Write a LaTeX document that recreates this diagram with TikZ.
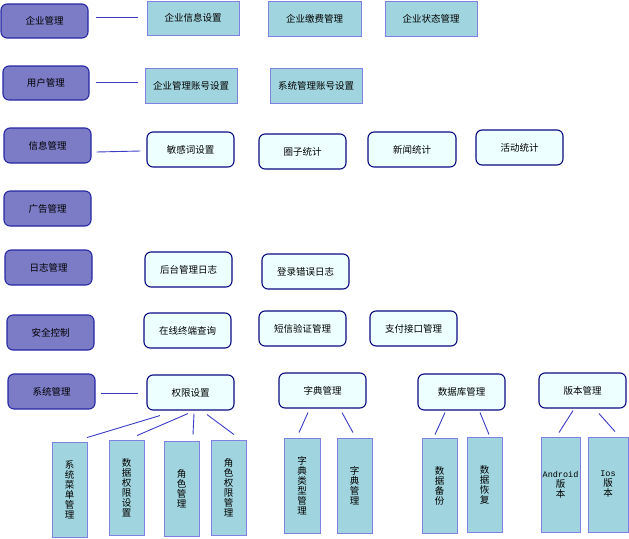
\documentclass[tikz,border=0pt]{standalone}
\usepackage{fontspec}
\setmainfont{Noto Sans CJK SC}
\setmonofont{Liberation Mono}
\begin{document}
\begin{tikzpicture}[x=1pt,y=-1pt,
  every node/.style={inner sep=0pt, font=\fontsize{9.5}{10}\selectfont},
  cat/.style={draw={rgb,255:red,40;green,40;blue,165}, line width=1.1pt,
    fill={rgb,255:red,123;green,123;blue,198}, rounded corners=6pt},
  leaf/.style={draw={rgb,255:red,128;green,128;blue,228}, line width=0.9pt,
    fill={rgb,255:red,160;green,212;blue,222}},
  sub/.style={draw={rgb,255:red,10;green,10;blue,130}, line width=1.1pt,
    fill={rgb,255:red,238;green,255;blue,255}, rounded corners=6pt},
  vleaf/.style={leaf, align=center, font=\fontsize{9.5}{10}\selectfont},
  link/.style={draw={rgb,255:red,60;green,60;blue,200}, line width=0.9pt}]
\useasboundingbox (0,0) rectangle (629,538);

% first-level modules
\node[cat, minimum width=87, minimum height=34] (c1) at (44.5,21) {企业管理};
\node[cat, minimum width=86, minimum height=34] (c2) at (46,83) {用户管理};
\node[cat, minimum width=87, minimum height=35] (c3) at (47.5,145.5) {信息管理};
\node[cat, minimum width=87, minimum height=35] (c4) at (47.5,208.5) {广告管理};
\node[cat, minimum width=87, minimum height=35] (c5) at (48.5,267.5) {日志管理};
\node[cat, minimum width=87, minimum height=35] (c6) at (50.5,332.5) {安全控制};
\node[cat, minimum width=87, minimum height=35] (c7) at (51.5,391.5) {系统管理};

% enterprise / user settings
\node[leaf, minimum width=92, minimum height=34] (a1) at (193,18) {企业信息设置};
\node[leaf, minimum width=93, minimum height=35] (a2) at (314.5,18.5) {企业缴费管理};
\node[leaf, minimum width=92, minimum height=35] (a3) at (431,18.5) {企业状态管理};
\node[leaf, minimum width=92, minimum height=35] (b1) at (191,85.5) {企业管理账号设置};
\node[leaf, minimum width=92, minimum height=35] (b2) at (316,85.5) {系统管理账号设置};

% information, log, security, system functions
\node[sub, minimum width=87, minimum height=35] (d1) at (190.5,149.5) {敏感词设置};
\node[sub, minimum width=87, minimum height=35] (d2) at (302.5,151.5) {圈子统计};
\node[sub, minimum width=88, minimum height=35] (d3) at (412,149.5) {新闻统计};
\node[sub, minimum width=87, minimum height=35] (d4) at (519.5,147.5) {活动统计};
\node[sub, minimum width=87, minimum height=35] (e1) at (188.5,269.5) {后台管理日志};
\node[sub, minimum width=87, minimum height=35] (e2) at (305.5,271.5) {登录错误日志};
\node[sub, minimum width=87, minimum height=35] (f1) at (187.5,330.5) {在线终端查询};
\node[sub, minimum width=87, minimum height=35] (f2) at (302.5,328.5) {短信验证管理};
\node[sub, minimum width=87, minimum height=35] (f3) at (413.5,328.5) {支付接口管理};
\node[sub, minimum width=87, minimum height=35] (g1) at (190.5,392.5) {权限设置};
\node[sub, minimum width=87, minimum height=35] (g2) at (322.5,390.5) {字典管理};
\node[sub, minimum width=87, minimum height=36] (g3) at (461.5,392) {数据库管理};
\node[sub, minimum width=87, minimum height=35] (g4) at (582.5,390.5) {版本管理};

% system management details (vertical labels)
\node[vleaf, minimum width=35, minimum height=95] (h1) at (69.5,489.5) {系\\统\\菜\\单\\管\\理};
\node[vleaf, minimum width=35, minimum height=95] (h2) at (126.5,487.5) {数\\据\\权\\限\\设\\置};
\node[vleaf, minimum width=35, minimum height=95] (h3) at (181.5,488.5) {角\\色\\管\\理};
\node[vleaf, minimum width=35, minimum height=95] (h4) at (228.5,487.5) {角\\色\\权\\限\\管\\理};
\node[vleaf, minimum width=36, minimum height=95] (i1) at (302,485.5) {字\\典\\类\\型\\管\\理};
\node[vleaf, minimum width=35, minimum height=95] (i2) at (354.5,485.5) {字\\典\\管\\理};
\node[vleaf, minimum width=35, minimum height=95] (j1) at (439.5,485.5) {数\\据\\备\\份};
\node[vleaf, minimum width=35, minimum height=95] (j2) at (484.5,484.5) {数\\据\\恢\\复};
\node[vleaf, minimum width=39, minimum height=95] (k1) at (560.5,484.5) {{\ttfamily\fontsize{8.5}{10}\selectfont Android}\\版\\本};
\node[vleaf, minimum width=40, minimum height=95] (k2) at (608,484.5) {{\ttfamily\fontsize{8.5}{10}\selectfont Ios}\\版\\本};

% connectors
\draw[link] ([xshift=7pt,yshift=4pt]c1.east) -- ([xshift=-9pt,yshift=1pt]a1.west);
\draw[link] ([xshift=6pt,yshift=1pt]c2.east) -- ([xshift=-7pt,yshift=3.5pt]b1.west);
\draw[link] ([xshift=5pt,yshift=-6.5pt]c3.east) -- ([xshift=-6pt,yshift=-1.5pt]d1.west);
\draw[link] ([xshift=5pt,yshift=-1.5pt]c7.east) -- ([xshift=-8pt,yshift=-0.5pt]g1.west);

\draw[link] ([xshift=-30.5pt,yshift=-5pt]g1.south) -- ([xshift=17.5pt,yshift=4pt]h1.north);
\draw[link] ([xshift=-2.5pt,yshift=-3pt]g1.south) -- ([xshift=10.5pt,yshift=4pt]h2.north);
\draw[link] ([xshift=3.5pt,yshift=-3pt]g1.south) -- ([xshift=11.5pt,yshift=6pt]h3.north);
\draw[link] ([xshift=16.5pt,yshift=-4pt]g1.south) -- ([xshift=5.5pt,yshift=5pt]h4.north);

\draw[link] ([xshift=-14.5pt,yshift=-4pt]g2.south) -- ([xshift=-3pt,yshift=5pt]i1.north);
\draw[link] ([xshift=19.5pt,yshift=-4pt]g2.south) -- ([xshift=-1.5pt,yshift=5pt]i2.north);

\draw[link] ([xshift=-16.5pt,yshift=-2pt]g3.south) -- ([xshift=-4.5pt,yshift=3pt]j1.north);
\draw[link] ([xshift=18.5pt,yshift=-2pt]g3.south) -- ([xshift=4.5pt,yshift=2pt]j2.north);

\draw[link] ([xshift=-9.5pt,yshift=-2pt]g4.south) -- ([xshift=-1.5pt,yshift=4pt]k1.north);
\draw[link] ([xshift=16.5pt,yshift=-5pt]g4.south) -- ([xshift=7pt,yshift=5pt]k2.north);
\end{tikzpicture}
\end{document}
